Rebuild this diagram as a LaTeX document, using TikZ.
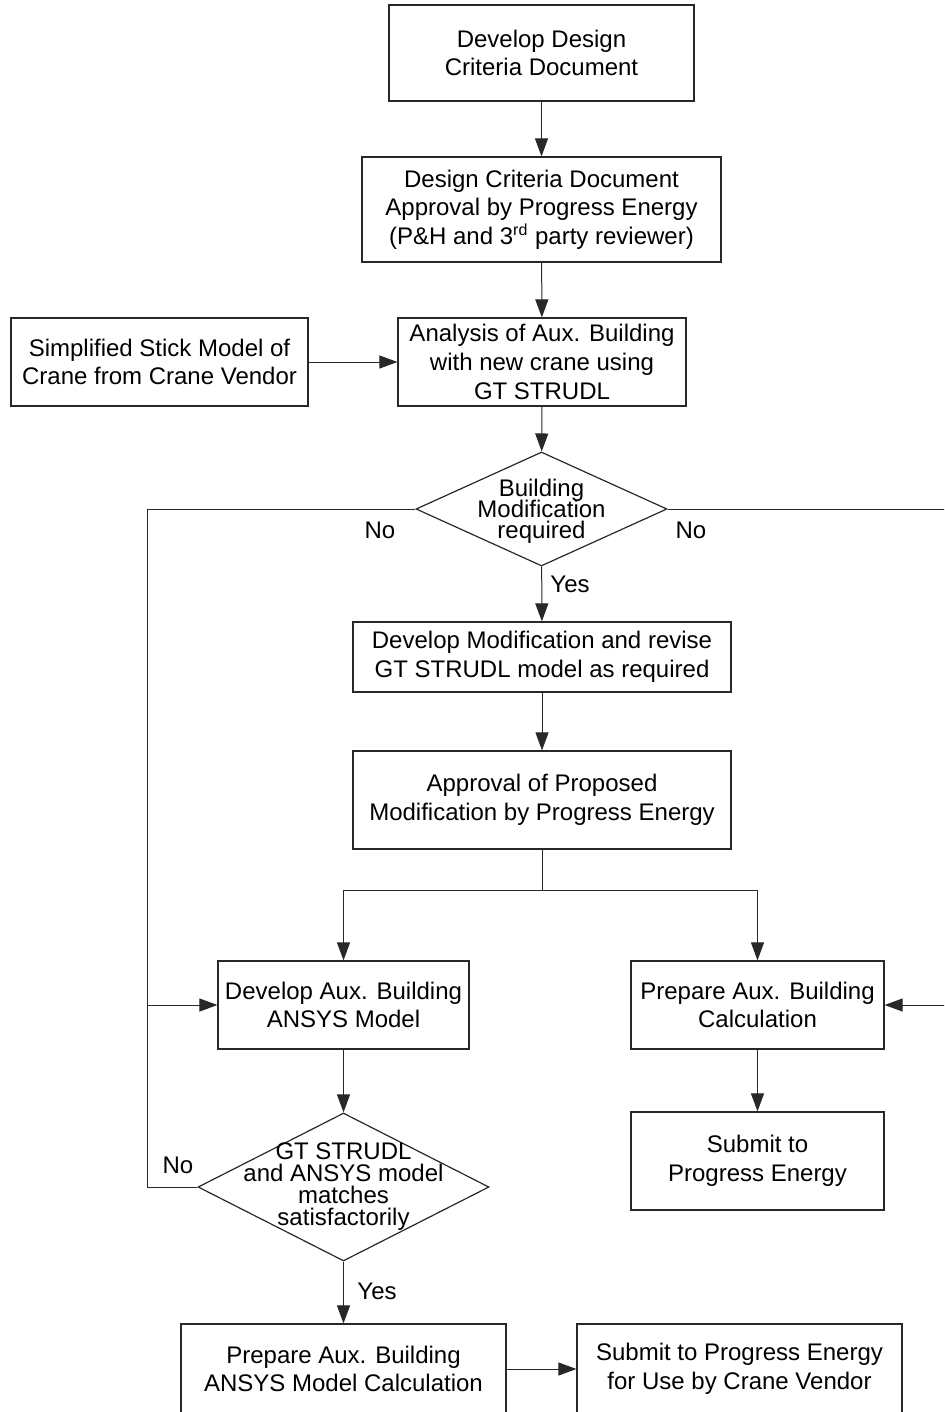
\documentclass[tikz,border=0pt]{standalone}
\usepackage{fontspec}
\setmainfont{Liberation Sans}
\usepackage{tikz}
\usetikzlibrary{shapes.geometric,arrows.meta,positioning,calc}
\definecolor{linea}{RGB}{40,40,40}
\newcommand{\tightlines}[1]{\fontsize{12}{#1}\selectfont\setlength{\lineskiplimit}{-20pt}}

\begin{document}
\begin{tikzpicture}[x=0.5pt, y=-0.5pt,
	box/.style={rectangle, draw=linea, line width=0.6pt, align=center, inner sep=0pt, font=\fontsize{12}{14.3}\selectfont},
	decision/.style={diamond, draw=linea, line width=0.6pt, inner sep=0pt, minimum width=#1},
	arr/.style={draw=linea, line width=0.5pt, -{Triangle[length=9pt,width=6.5pt]}},
	lin/.style={draw=linea, line width=0.5pt},
	lbl/.style={font=\fontsize{12}{14}\selectfont, inner sep=0pt}]
	\path[use as bounding box, clip] (0,0) rectangle (944,1412);
	\fill[white] (0,0) rectangle (944,1412);

	\node[box, minimum width=152.5pt, minimum height=48pt] (develop) at (541.5,53) {Develop Design\\Criteria Document};
	\node[box, minimum width=179.5pt, minimum height=52.5pt] (approval) at (541.5,209.5) {Design Criteria Document\\Approval by Progress Energy\\(P\&H and 3\textsuperscript{rd} party reviewer)};
	\node[box, minimum width=148.5pt, minimum height=44pt] (stick) at (159.5,362) {Simplified Stick Model of\\Crane from Crane Vendor};
	\node[box, minimum width=144pt, minimum height=44pt] (analysis) at (542,362) {Analysis of Aux. Building\\with new crane using\\GT STRUDL};
	\node[decision=125.5pt, minimum height=57pt,
		label={[font=\tightlines{10.5}, align=center, yshift=-1pt]center:Building\\Modification\\required}] (modreq) at (541.5,509) {};
	\node[box, minimum width=189pt, minimum height=35pt] (revise) at (542,657) {Develop Modification and revise\\GT STRUDL model as required};
	\node[box, minimum width=189pt, minimum height=49pt] (propapp) at (542,800) {Approval of Proposed\\Modification by Progress Energy};
	\node[box, minimum width=125.5pt, minimum height=44pt] (ansys) at (343.5,1005) {Develop Aux. Building\\ANSYS Model};
	\node[box, minimum width=126.5pt, minimum height=44pt] (auxcalc) at (757.5,1005) {Prepare Aux. Building\\Calculation};
	\node[box, minimum width=126.5pt, minimum height=49pt] (submit) at (757.5,1161) {Submit to\\Progress Energy};
	\node[decision=145.5pt, minimum height=74pt,
		label={[font=\tightlines{11}, align=center]center:GT STRUDL\\and ANSYS model\\matches\\satisfactorily}] (matches) at (343.5,1187) {};
	\node[box, minimum width=162.5pt, minimum height=45pt] (ansyscalc) at (343.5,1369) {Prepare Aux. Building\\ANSYS Model Calculation};
	\node[box, minimum width=162.5pt, minimum height=45pt] (vendor) at (739.5,1369) {Submit to Progress Energy\\for Use by Crane Vendor};

	\coordinate (noleft) at (147,509);
	\coordinate (nojoin) at (147,1005);
	\coordinate (noright) at (952,509);
	\coordinate (split) at (542,890);

	\draw[arr] (develop) -- (approval);
	\draw[arr] (approval) -- (analysis);
	\draw[arr] (stick) -- (analysis);
	\draw[arr] (analysis) -- (modreq);
	\draw[arr] (modreq) -- (revise);
	\draw[arr] (revise) -- (propapp);
	\draw[lin] (propapp) -- (split);
	\draw[arr] (split) -| (ansys.north);
	\draw[arr] (split) -| (auxcalc.north);
	\draw[arr] (modreq.west) -- (noleft) |- (ansys.west);
	\draw[lin] (matches.west) -| (nojoin);
	\draw[arr] (modreq.east) -- (noright) |- (auxcalc.east);
	\draw[arr] (auxcalc) -- (submit);
	\draw[arr] (ansys) -- (matches);
	\draw[arr] (matches) -- (ansyscalc);
	\draw[arr] (ansyscalc) -- (vendor);

	\node[lbl] (nol) at (380,530) {No};
	\node[lbl] (nor) at (691,530) {No};
	\node[lbl] (yesmod) at (570,584) {Yes};
	\node[lbl] (nomatch) at (178,1165) {No};
	\node[lbl] (yesmatch) at (377,1291) {Yes};
\end{tikzpicture}
\end{document}
